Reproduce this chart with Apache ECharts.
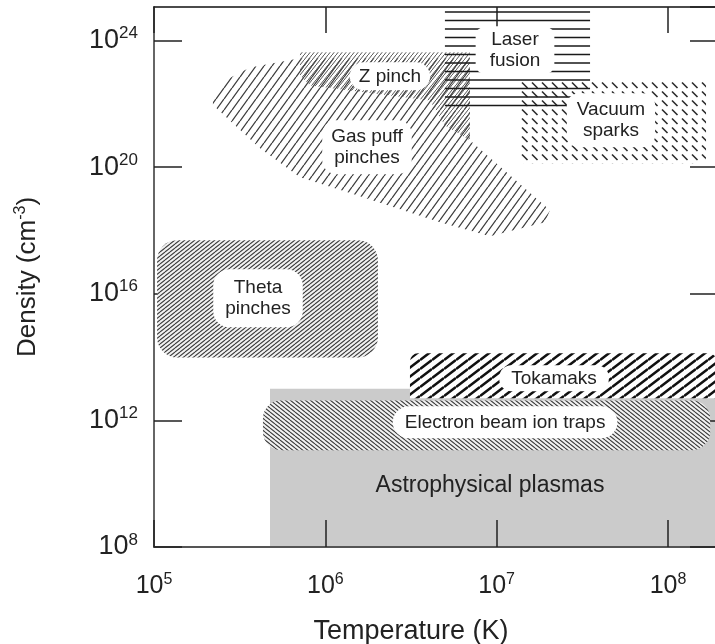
<!DOCTYPE html>
<html>
<head>
<meta charset="utf-8">
<script src="https://cdn.jsdelivr.net/npm/echarts@6/dist/echarts.min.js"></script>
<style>
  html, body { margin: 0; padding: 0; background: #fff; }
  #chart { width: 715px; height: 644px; }
</style>
</head>
<body>
<div id="chart"></div>
<script>
// all values are exponents: x = log10 T (K), y = log10 n (cm^-3)
const tempRange = [5, 8.286];
const densRange = [8, 25.06];

// boxes: [Tmin, Tmax, nMin, nMax]
const laserFusion = [6.698, 7.545, 21.73, 25.02];
const vacuumSparks = [7.125, 8.222, 20.12, 22.75];
const thetaPinches = [5.018, 6.307, 13.99, 17.69];
const tokamaks = [6.494, 8.285, 12.70, 14.12];
const ebit = [5.636, 8.246, 11.06, 12.63];
const astroPlasmas = [5.677, 8.29, 8.0, 13.0];

// outlines: [T, n]
const gasPuff = [
    [5.344, 22.18], [5.42, 22.75], [5.56, 23.15], [5.852, 23.44], [6.844, 23.44], [6.844, 20.85],
    [7.311, 18.64], [7.282, 18.26], [6.961, 17.82], [6.669, 18.26], [6.144, 19.18],
    [5.852, 19.68], [5.619, 20.60], [5.344, 21.96]
];
const zPinch = [
    [5.852, 23.63], [6.844, 23.63], [6.844, 20.85], [6.698, 21.32],
    [6.611, 22.11], [5.911, 22.58], [5.852, 22.90]
];

// region labels
const labelNames = ['Laser\nfusion', 'Z pinch', 'Gas puff\npinches', 'Vacuum\nsparks',
    'Theta\npinches', 'Tokamaks', 'Electron beam ion traps', 'Astrophysical plasmas'];
const labelT = [7.107, 6.377, 6.243, 7.667, 5.607, 7.335, 7.049, 6.961];
const labelN = [23.69, 22.87, 20.63, 21.48, 15.86, 13.33, 11.94, 9.95];

const FONT = "'Liberation Sans', Arial, Helvetica, sans-serif";

const labelBoxes = [
    { size: 19, lh: 21, pad: [3, 14], r: 10 },
    { size: 19, lh: 20, pad: [4, 9], r: 14 },
    { size: 19, lh: 21, pad: [6, 9], r: 14 },
    { size: 19, lh: 21, pad: [6, 10], r: 12 },
    { size: 19, lh: 21, pad: [8, 12], r: 16 },
    { size: 19, lh: 20, pad: [3, 12], r: 12 },
    { size: 19, lh: 20, pad: [6, 12], r: 16 },
    { size: 23, lh: 26, pad: 0, r: 0, noBox: true }
];

// small tiles used as fill patterns
function hatch(w, h, color, lw, dir, bg) {
    const c = document.createElement('canvas');
    c.width = w; c.height = h;
    const ctx = c.getContext('2d');
    if (bg) { ctx.fillStyle = bg; ctx.fillRect(0, 0, w, h); }
    ctx.strokeStyle = color;
    ctx.lineWidth = lw;
    ctx.beginPath();
    for (let k = -1; k <= 1; k++) {
        if (dir === '/') {
            ctx.moveTo(0, h + k * h); ctx.lineTo(w, k * h);
        } else {
            ctx.moveTo(0, k * h); ctx.lineTo(w, h + k * h);
        }
    }
    ctx.stroke();
    return { image: c, repeat: 'repeat' };
}

function hLines() {
    const c = document.createElement('canvas');
    c.width = 4; c.height = 17;
    const ctx = c.getContext('2d');
    ctx.strokeStyle = '#1a1a1a';
    ctx.lineWidth = 1.5;
    ctx.beginPath();
    ctx.moveTo(0, 3.5); ctx.lineTo(4, 3.5);
    ctx.moveTo(0, 12); ctx.lineTo(4, 12);
    ctx.stroke();
    return { image: c, repeat: 'repeat' };
}

function dashes() {
    const c = document.createElement('canvas');
    c.width = 10; c.height = 9;
    const ctx = c.getContext('2d');
    ctx.strokeStyle = '#2a2a2a';
    ctx.lineWidth = 1.6;
    ctx.beginPath();
    ctx.moveTo(2, 1.5); ctx.lineTo(7.5, 7);
    ctx.stroke();
    return { image: c, repeat: 'repeat' };
}

const fills = {
    laser: hLines(),
    vacuum: dashes(),
    theta: hatch(5, 4, '#3a3a3a', 1.1, '/', '#f2f2f2'),
    tokamak: hatch(12, 9, '#111', 2.6, '/', '#fff'),
    ebit: hatch(5, 4, '#3a3a3a', 1.1, '\\', '#f2f2f2'),
    gas: hatch(8, 11, '#3e3e3e', 1.3, '/'),
    zpinch: hatch(4, 5, '#555', 1, '/')
};

function boxRenderer(fill, r) {
    return function (params, api) {
        const tl = api.coord([api.value(0), api.value(3)]);
        const br = api.coord([api.value(1), api.value(2)]);
        return {
            type: 'rect',
            shape: { x: tl[0], y: tl[1], width: br[0] - tl[0], height: br[1] - tl[1], r: r },
            style: { fill: fill }
        };
    };
}

function polyRenderer(points, fill) {
    return function (params, api) {
        if (params.dataIndex !== 0) return null;
        return {
            type: 'polygon',
            shape: { points: points.map(p => api.coord(p)) },
            style: { fill: fill }
        };
    };
}

function boxSeries(box, fill, r, z) {
    return { type: 'custom', z: z || 3, silent: true, data: [box], renderItem: boxRenderer(fill, r) };
}

function polySeries(points, fill) {
    return { type: 'custom', z: 3, silent: true, data: points, renderItem: polyRenderer(points, fill) };
}

function supRich(base, sup) {
    return {
        b: { fontSize: base, lineHeight: base + 4, fontFamily: FONT, color: '#222' },
        s: { fontSize: sup, lineHeight: sup, fontFamily: FONT, color: '#222', verticalAlign: 'top' }
    };
}

const chart = echarts.init(document.getElementById('chart'));

const option = {
    animation: false,
    backgroundColor: '#fff',
    grid: { left: 154, top: 7, right: -2, bottom: 97, containLabel: false, outerBoundsMode: 'none' },
    xAxis: [
        {
            type: 'value', min: tempRange[0], max: tempRange[1], interval: 1, position: 'bottom', z: 1.5,
            axisLine: { lineStyle: { color: '#555', width: 2 } },
            axisTick: { inside: true, length: 27, lineStyle: { color: '#222', width: 1.5 } },
            axisLabel: { margin: 25, showMaxLabel: false, formatter: v => '{b|10}{s|' + v + '}', rich: supRich(25, 16) },
            splitLine: { show: false },
            name: 'Temperature (K)', nameLocation: 'middle', nameGap: 71,
            nameTextStyle: { fontSize: 27, fontFamily: FONT, color: '#222', padding: [0, 49, 0, 0] }
        },
        {
            type: 'value', min: tempRange[0], max: tempRange[1], interval: 1, position: 'top', z: 1.5,
            axisLine: { lineStyle: { color: '#111', width: 1.5 } },
            axisTick: { inside: true, length: 26, lineStyle: { color: '#222', width: 1.5 } },
            axisLabel: { show: false },
            splitLine: { show: false }
        }
    ],
    yAxis: [
        {
            type: 'value', min: densRange[0], max: densRange[1], interval: 4, position: 'left', z: 1.5,
            axisLine: { lineStyle: { color: '#666', width: 2 } },
            axisTick: { inside: true, length: 28, lineStyle: { color: '#222', width: 1.5 } },
            axisLabel: { margin: 16, showMaxLabel: false, formatter: v => '{b|10}{s|' + v + '}', rich: supRich(27, 17) },
            splitLine: { show: false },
            name: '{b|Density (cm}{s|-3}{b|)}', nameLocation: 'middle', nameGap: 111,
            nameTextStyle: { rich: supRich(26, 16) }
        },
        {
            type: 'value', min: densRange[0], max: densRange[1], interval: 4, position: 'right', z: 1.5,
            axisLine: { lineStyle: { color: '#111', width: 1.5 } },
            axisTick: { inside: true, length: 27, lineStyle: { color: '#222', width: 1.5 } },
            axisLabel: { show: false },
            splitLine: { show: false }
        }
    ],
    series: [
        boxSeries(astroPlasmas, '#cbcbcb', 0, 1),
        boxSeries(ebit, fills.ebit, 18),
        boxSeries(tokamaks, fills.tokamak, [8, 8, 0, 0]),
        boxSeries(thetaPinches, fills.theta, 20),
        polySeries(gasPuff, fills.gas),
        polySeries(zPinch, fills.zpinch),
        boxSeries(vacuumSparks, fills.vacuum, 6),
        boxSeries(laserFusion, fills.laser, 0),
        {
            type: 'custom', z: 5, silent: true,
            data: labelNames.map((s, i) => [labelT[i], labelN[i], i]),
            renderItem: function (params, api) {
                const i = api.value(2);
                const c = api.coord([api.value(0), api.value(1)]);
                const b = labelBoxes[i];
                return {
                    type: 'text', x: c[0], y: c[1],
                    style: {
                        text: labelNames[i], fontSize: b.size, fontFamily: FONT, fill: '#222',
                        align: 'center', verticalAlign: 'middle', lineHeight: b.lh,
                        backgroundColor: b.noBox ? null : '#fff', borderRadius: b.r, padding: b.pad
                    }
                };
            }
        }
    ]
};

chart.setOption(option);
</script>
</body>
</html>
